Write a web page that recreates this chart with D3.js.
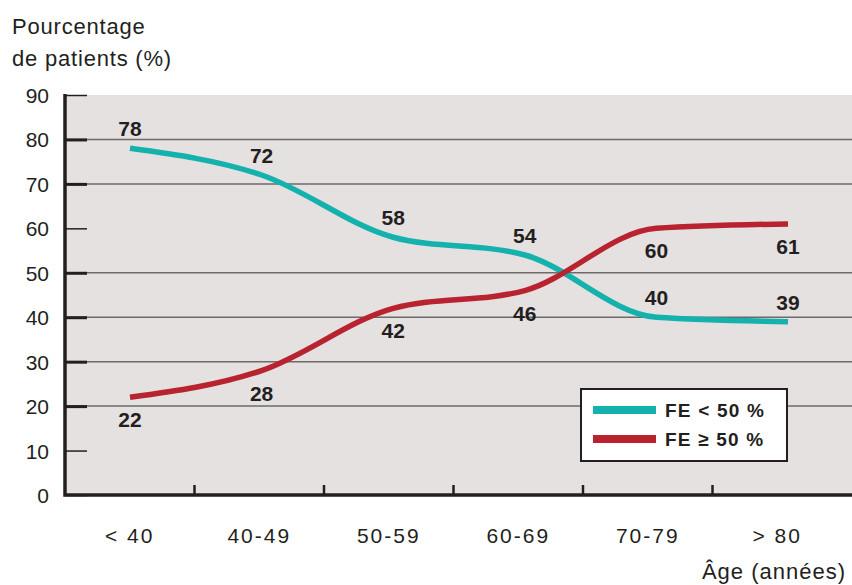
<!DOCTYPE html>
<html>
<head>
<meta charset="utf-8">
<script src="https://cdn.jsdelivr.net/npm/d3@7/dist/d3.min.js"></script>
<style>
  html, body { margin: 0; padding: 0; background: #fff; }
  svg text { font-family: "Liberation Sans", Arial, sans-serif; fill: #231f20; }
</style>
</head>
<body>
<svg id="chart" width="852" height="585"></svg>
<script>
// Age groups and share of patients per ejection-fraction group
const ageGroups = ["< 40", "40-49", "50-59", "60-69", "70-79", "> 80"];
const feLow = [78, 72, 58, 54, 40, 39];   // FE < 50 %
const feHigh = [22, 28, 42, 46, 60, 61];  // FE ≥ 50 %
const yTicks = [0, 10, 20, 30, 40, 50, 60, 70, 80, 90];
const gridValues = [20, 30, 40, 50, 70, 80];
const seriesNames = ["FE < 50 %", "FE \u2265 50 %"];
const seriesColors = ["#14b1ad", "#b8232f"];

const svg = d3.select("#chart");
const plotLeft = 65, plotRight = 852, plotTop = 95, plotBottom = 495;

const y = d3.scaleLinear().domain([0, 90]).range([plotBottom, plotTop]);
const xBand = d3.scaleBand().domain(ageGroups).range([plotLeft, 842]);
const x = d3.scalePoint().domain(ageGroups).range([130, 788]);

// plot background
svg.append("rect")
  .attr("x", plotLeft).attr("y", plotTop)
  .attr("width", plotRight - plotLeft).attr("height", plotBottom - plotTop)
  .attr("fill", "#e6e1e1");

// horizontal grid lines
svg.append("g").selectAll("line").data(gridValues).join("line")
  .attr("x1", plotLeft).attr("x2", plotRight)
  .attr("y1", d => y(d)).attr("y2", d => y(d))
  .attr("stroke", "#6d6a6a").attr("stroke-width", 1.5);

// y axis: ticks pointing into the plot
const yAxis = d3.axisRight(y).tickValues(yTicks).tickSize(22).tickFormat("");
const yg = svg.append("g").attr("transform", `translate(${plotLeft},0)`).call(yAxis);
yg.select(".domain").remove();
yg.selectAll(".tick line")
  .attr("stroke", "#231f20")
  .attr("stroke-width", d => gridValues.includes(d) ? 3 : 1.5);

svg.append("g").selectAll("text").data(yTicks).join("text")
  .attr("x", 49).attr("y", d => y(d) + 8)
  .attr("text-anchor", "end")
  .attr("font-size", 21)
  .text(d => d);

// x axis: ticks at group boundaries, pointing up
const boundaries = ageGroups.slice(1).map(g => xBand(g));
svg.append("g").selectAll("line").data(boundaries).join("line")
  .attr("x1", d => d).attr("x2", d => d)
  .attr("y1", plotBottom).attr("y2", plotBottom - 10)
  .attr("stroke", "#231f20").attr("stroke-width", 2.5);

svg.append("g").selectAll("text").data(ageGroups).join("text")
  .attr("x", d => xBand(d) + xBand.bandwidth() / 2)
  .attr("y", 543)
  .attr("text-anchor", "middle")
  .attr("font-size", 21)
  .attr("letter-spacing", 2)
  .text(d => d);

// axis frame
svg.append("path")
  .attr("d", `M${plotLeft},${plotTop - 1}V${plotBottom}H${plotRight}`)
  .attr("fill", "none").attr("stroke", "#231f20").attr("stroke-width", 3.5);

// series lines
const line = d3.line()
  .x((d, i) => x(ageGroups[i]))
  .y(d => y(d))
  .curve(d3.curveMonotoneX);

[feLow, feHigh].forEach((vals, k) => {
  svg.append("path")
    .datum(vals)
    .attr("d", line)
    .attr("fill", "none")
    .attr("stroke", seriesColors[k])
    .attr("stroke-width", 5.5);
});

// value labels: above the FE < 50 % line, below the FE ≥ 50 % line
svg.append("g").selectAll("text").data(feLow).join("text")
  .attr("x", (d, i) => x(ageGroups[i]))
  .attr("y", d => y(d) - 12)
  .attr("text-anchor", "middle")
  .attr("font-size", 21).attr("font-weight", "bold")
  .text(d => d);

svg.append("g").selectAll("text").data(feHigh).join("text")
  .attr("x", (d, i) => x(ageGroups[i]))
  .attr("y", d => y(d) + 30)
  .attr("text-anchor", "middle")
  .attr("font-size", 21).attr("font-weight", "bold")
  .text(d => d);

// legend
const lg = svg.append("g");
lg.append("rect")
  .attr("x", 581).attr("y", 389).attr("width", 206).attr("height", 72)
  .attr("fill", "#fff").attr("stroke", "#231f20").attr("stroke-width", 2);
seriesNames.forEach((name, k) => {
  const cy = 410 + k * 29;
  lg.append("line")
    .attr("x1", 593).attr("x2", 656).attr("y1", cy).attr("y2", cy)
    .attr("stroke", seriesColors[k]).attr("stroke-width", 8);
  lg.append("text")
    .attr("x", 665).attr("y", cy + 7)
    .attr("font-size", 19).attr("font-weight", "bold")
    .attr("letter-spacing", 1.2)
    .text(name);
});

// axis titles
const yt = svg.append("text").attr("font-size", 22).attr("letter-spacing", 0.8);
yt.append("tspan").attr("x", 12).attr("y", 34).text("Pourcentage");
yt.append("tspan").attr("x", 12).attr("y", 66).text("de patients (%)");

svg.append("text")
  .attr("x", 846).attr("y", 579)
  .attr("text-anchor", "end")
  .attr("font-size", 22)
  .attr("letter-spacing", 1)
  .text("Âge (années)");
</script>
</body>
</html>
